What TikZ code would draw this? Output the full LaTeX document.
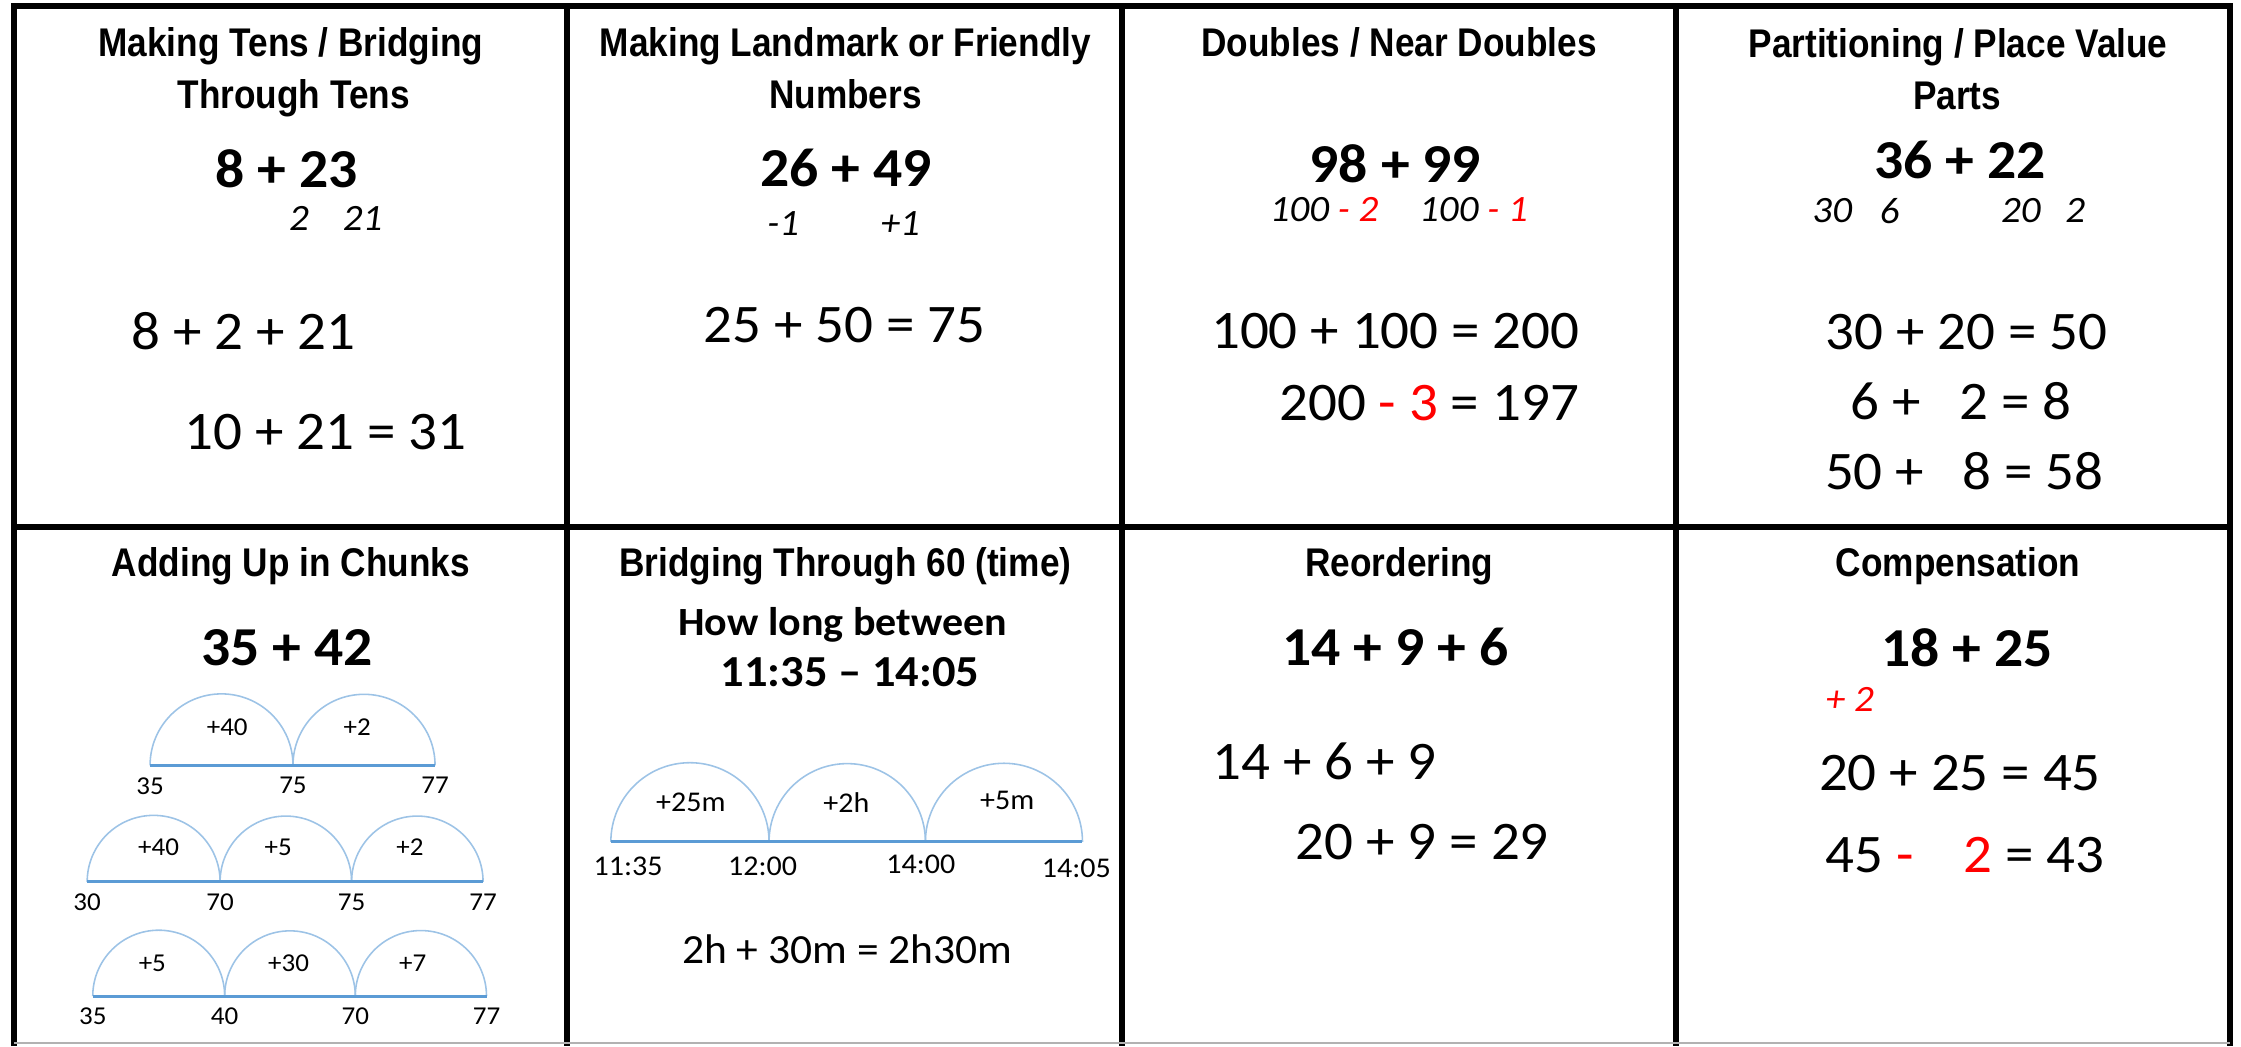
\documentclass[tikz,border=0pt]{standalone}
\usepackage{fontspec}
\setmainfont{Carlito}[FakeStretch=1.05]
\newfontfamily\headfont{Liberation Sans}[FakeStretch=0.88]
\usepackage{tikz}
\usetikzlibrary{positioning}
\definecolor{jumpBlue}{RGB}{157, 195, 230}
\definecolor{lineBlue}{RGB}{91, 155, 213}

\begin{document}
\begin{tikzpicture}[
    x=0.5pt, y=-0.5pt,
    heading/.style={font=\headfont\bfseries\fontsize{14}{17}\selectfont, anchor=base, inner sep=0pt},
    sum/.style={font=\bfseries\fontsize{19.2}{23}\selectfont, inner sep=0pt},
    work/.style={font=\fontsize{19}{22}\selectfont, inner sep=0pt},
    hint/.style={font=\itshape\fontsize{13}{16}\selectfont, inner sep=0pt},
    tick/.style={font=\fontsize{9}{11}\selectfont, inner sep=0pt},
    clock/.style={font=\fontsize{10}{12}\selectfont, inner sep=0pt},
    jump/.style={draw=jumpBlue, line width=0.55pt},
    numline/.style={draw=lineBlue, line width=1.1pt},
    rule/.style={line width=2.1pt},
  ]
    \useasboundingbox (0,0) rectangle (1568,732);

    % table
    \draw[rule] (10.1,732) -- (10.1,4.5) -- (1560.2,4.5) -- (1560.2,732);
    \draw[rule] (10.1,368.7) -- (1560.2,368.7);
    \draw[rule] (397,4.5) -- (397,732);
    \draw[rule] (784.7,4.5) -- (784.7,732);
    \draw[rule] (1172.6,4.5) -- (1172.6,732);
    \draw[gray!60, line width=0.6pt] (10.1,729.7) -- (1560.2,729.7);

    % making tens
    \node[heading] (t1a) at (203.5,39.7) {Making Tens / Bridging};
    \node[heading] (t1b) at (205.5,76) {Through Tens};
    \node[sum] (s1) at (200.7,118.4) {8 + 23};
    \node[hint] (h1a) at (209.2,152.7) {2};
    \node[hint] (h1b) at (253.8,152.7) {21};
    \node[work] (w1a) at (170.5,231.5) {8 + 2 + 21};
    \node[work] (w1b) at (227.7,302) {10 + 21 = 31};

    % landmark numbers
    \node[heading] (t2a) at (591.5,39.7) {Making Landmark or Friendly};
    \node[heading] (t2b) at (591.6,76) {Numbers};
    \node[sum] (s2) at (592,117.8) {26 + 49};
    \node[hint] (h2a) at (548,156.3) {-1};
    \node[hint] (h2b) at (630,156.3) {+1};
    \node[work] (w2) at (591,227.4) {25 + 50 = 75};

    % doubles
    \node[heading] (t3) at (978.9,39.7) {Doubles / Near Doubles};
    \node[sum] (s3) at (976.3,114.3) {98 + 99};
    \node[hint] (h3a) at (926.5,146.9) {100 \textcolor{red}{- 2}};
    \node[hint] (h3b) at (1031,146.9) {100 \textcolor{red}{- 1}};
    \node[work] (w3a) at (976.3,231.5) {100 + 100 = 200};
    \node[work] (w3b) at (999.9,282.2) {200 \textcolor{red}{- 3} = 197};

    % partitioning
    \node[heading] (t4a) at (1370,40) {Partitioning / Place Value};
    \node[heading] (t4b) at (1369.4,76.5) {Parts};
    \node[sum] (s4) at (1371.6,112) {36 + 22};
    \node[hint] (h4a) at (1282,147.5) {30};
    \node[hint] (h4b) at (1322,147.5) {6};
    \node[hint] (h4c) at (1414,147.5) {20};
    \node[hint] (h4d) at (1452,147.5) {2};
    \node[work] (w4a) at (1375.7,232) {30 + 20 = 50};
    \node[work] (w4b) at (1372,280.4) {6 +\hspace{9pt} 2 = 8};
    \node[work] (w4c) at (1374.4,330) {50 +\hspace{9pt} 8 = 58};

    % chunks
    \node[heading] (t5) at (203.5,403.6) {Adding Up in Chunks};
    \node[sum] (s5) at (200.9,453) {35 + 42};
    \coordinate (c1a) at (105,535.5);
    \coordinate (c1b) at (205,535.5);
    \coordinate (c1c) at (304.4,535.5);
    \draw[jump] (c1a) arc[start angle=180, end angle=360, radius=50];
    \draw[jump] (c1b) arc[start angle=180, end angle=360, radius=49.7];
    \draw[numline] (c1a) -- (c1c);
    \node[tick] (j1a) at (159,509) {+40};
    \node[tick] (j1b) at (250,509) {+2};
    \node[tick, below=4pt of c1a] (n1a) {35};
    \node[tick, below=4pt of c1b] (n1b) {75};
    \node[tick, below=4pt of c1c] (n1c) {77};

    \coordinate (c2a) at (61,617);
    \coordinate (c2b) at (154,617);
    \coordinate (c2c) at (246,617);
    \coordinate (c2d) at (338,617);
    \draw[jump] (c2a) arc[start angle=180, end angle=360, radius=46.5];
    \draw[jump] (c2b) arc[start angle=180, end angle=360, radius=46];
    \draw[jump] (c2c) arc[start angle=180, end angle=360, radius=46];
    \draw[numline] (c2a) -- (c2d);
    \node[tick] (j2a) at (111,593) {+40};
    \node[tick] (j2b) at (194.6,593) {+5};
    \node[tick] (j2c) at (286.9,593) {+2};
    \node[tick, below=4pt of c2a] (n2a) {30};
    \node[tick, below=4pt of c2b] (n2b) {70};
    \node[tick, below=4pt of c2c] (n2c) {75};
    \node[tick, below=4pt of c2d] (n2d) {77};

    \coordinate (c3a) at (64.9,697);
    \coordinate (c3b) at (157.2,697);
    \coordinate (c3c) at (248.6,697);
    \coordinate (c3d) at (340.4,697);
    \draw[jump] (c3a) arc[start angle=180, end angle=360, radius=46.15];
    \draw[jump] (c3b) arc[start angle=180, end angle=360, radius=45.7];
    \draw[jump] (c3c) arc[start angle=180, end angle=360, radius=45.9];
    \draw[numline] (c3a) -- (c3d);
    \node[tick] (j3a) at (106.6,674) {+5};
    \node[tick] (j3b) at (201.9,674) {+30};
    \node[tick] (j3c) at (288.8,674) {+7};
    \node[tick, below=4pt of c3a] (n3a) {35};
    \node[tick, below=4pt of c3b] (n3b) {40};
    \node[tick, below=4pt of c3c] (n3c) {70};
    \node[tick, below=4pt of c3d] (n3d) {77};

    % time
    \node[heading] (t6) at (591.5,403.6) {Bridging Through 60 (time)};
    \node[heading, font=\bfseries\fontsize{14}{17}\selectfont] (q6a) at (589.5,445) {How long between};
    \node[sum, font=\bfseries\fontsize{15.5}{18}\selectfont] (q6b) at (594.7,470) {11:35 -- 14:05};
    \coordinate (c6a) at (427.4,589);
    \coordinate (c6b) at (538.1,589);
    \coordinate (c6c) at (647.5,589);
    \coordinate (c6d) at (757.4,589);
    \draw[jump] (c6a) arc[start angle=180, end angle=360, radius=55.35];
    \draw[jump] (c6b) arc[start angle=180, end angle=360, radius=54.7];
    \draw[jump] (c6c) arc[start angle=180, end angle=360, radius=54.95];
    \draw[numline] (c6a) -- (c6d);
    \node[clock] (j6a) at (483.4,561.5) {+25m};
    \node[clock] (j6b) at (592.2,561.5) {+2h};
    \node[clock] (j6c) at (704.7,560) {+5m};
    \node[clock] (n6a) at (439.5,606) {11:35};
    \node[clock] (n6b) at (533.6,606) {12:00};
    \node[clock] (n6c) at (644.3,605) {14:00};
    \node[clock] (n6d) at (753.1,607.5) {14:05};
    \node[work, font=\fontsize{14.5}{17}\selectfont] (w6) at (592.8,664.5) {2h + 30m = 2h30m};

    % reordering
    \node[heading] (t7) at (979,403.6) {Reordering};
    \node[sum] (s7) at (976.3,452.5) {14 + 9 + 6};
    \node[work] (w7a) at (926.7,533) {14 + 6 + 9};
    \node[work] (w7b) at (995.2,589.5) {20 + 9 = 29};

    % compensation
    \node[heading] (t8) at (1370,403.6) {Compensation};
    \node[sum] (s8) at (1376.2,453) {18 + 25};
    \node[hint, text=red] (h8) at (1294.4,489.5) {+ 2};
    \node[work] (w8a) at (1371.3,541) {20 + 25 = 45};
    \node[work] (w8b) at (1375,598) {45 \textcolor{red}{-}\hspace{13pt} \textcolor{red}{2} = 43};
  \end{tikzpicture}
\end{document}
